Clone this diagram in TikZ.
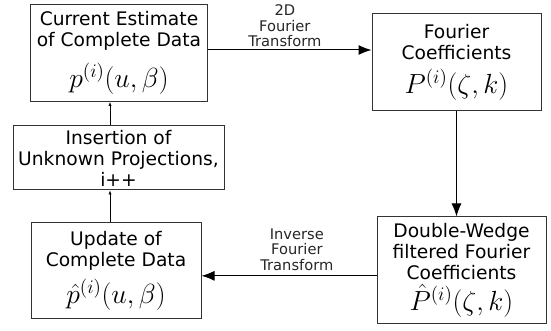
\documentclass[tikz,border=0pt]{standalone}
\usepackage[no-math]{fontspec}
\setmainfont{DejaVu Sans}
\usetikzlibrary{arrows.meta}
\begin{document}
\begin{tikzpicture}[x=0.75pt,y=-0.75pt,
    box/.style={draw=black!80,line width=0.75pt,align=center,inner sep=0pt,
      font=\fontsize{14}{15.75}\selectfont},
    bigarrow/.style={line width=0.75pt,-{Latex[length=9.75pt,width=7.5pt]}},
    smallarrow/.style={line width=0.5pt,-{Latex[length=3pt,width=2.5pt]}},
    lbl/.style={align=center,inner sep=0pt,text=black!85,
      font=\fontsize{11}{11.6}\selectfont}]
    \useasboundingbox (0,0) rectangle (551,331);
    %% boxes
    \node[box,minimum width=132.75pt,minimum height=72.75pt] (est) at (119,53)
        {Current Estimate\\of Complete Data\\[8pt]{\fontsize{20}{24}\selectfont$p^{(i)}(u,\beta)$}};
    \node[box,minimum width=126.75pt,minimum height=72.75pt] (coef) at (456.5,62.5)
        {Fourier\\Coefficients\\[6pt]{\fontsize{20}{24}\selectfont$P^{(i)}(\zeta,k)$}};
    \node[box,minimum width=158.25pt,minimum height=48pt] (ins) at (118.5,158)
        {Insertion of\\Unknown Projections,\\i++};
    \node[box,minimum width=127.5pt,minimum height=72pt] (upd) at (116,271)
        {Update of\\Complete Data\\[6pt]{\fontsize{20}{24}\selectfont$\hat{p}^{(i)}(u,\beta)$}};
    \node[box,minimum width=126.75pt,minimum height=80.25pt] (filt) at (461.5,270.5)
        {Double-Wedge\\filtered Fourier\\Coefficients\\[2pt]{\fontsize{20}{24}\selectfont$\hat{P}^{(i)}(\zeta,k)$}};
    %% transforms
    \draw[bigarrow] ([yshift=2.25pt]est.east) coordinate (t1) -- (t1 -| coef.west)
        node[lbl,pos=0.47,anchor=south,yshift=1.9pt] {2D\\Fourier\\Transform};
    \draw[bigarrow] (coef.south) -- (coef.south |- filt.north);
    \draw[bigarrow] ([yshift=-4pt]filt.west) coordinate (t2) -- (t2 -| upd.east)
        node[lbl,pos=0.455,anchor=south,yshift=3.75pt] {Inverse\\Fourier\\Transform};
    %% iteration
    \draw[smallarrow] ([xshift=-4.5pt]upd.north) coordinate (s1) -- (s1 |- ins.south);
    \draw[smallarrow] (s1 |- ins.north) -- (s1 |- est.south);
\end{tikzpicture}
\end{document}
